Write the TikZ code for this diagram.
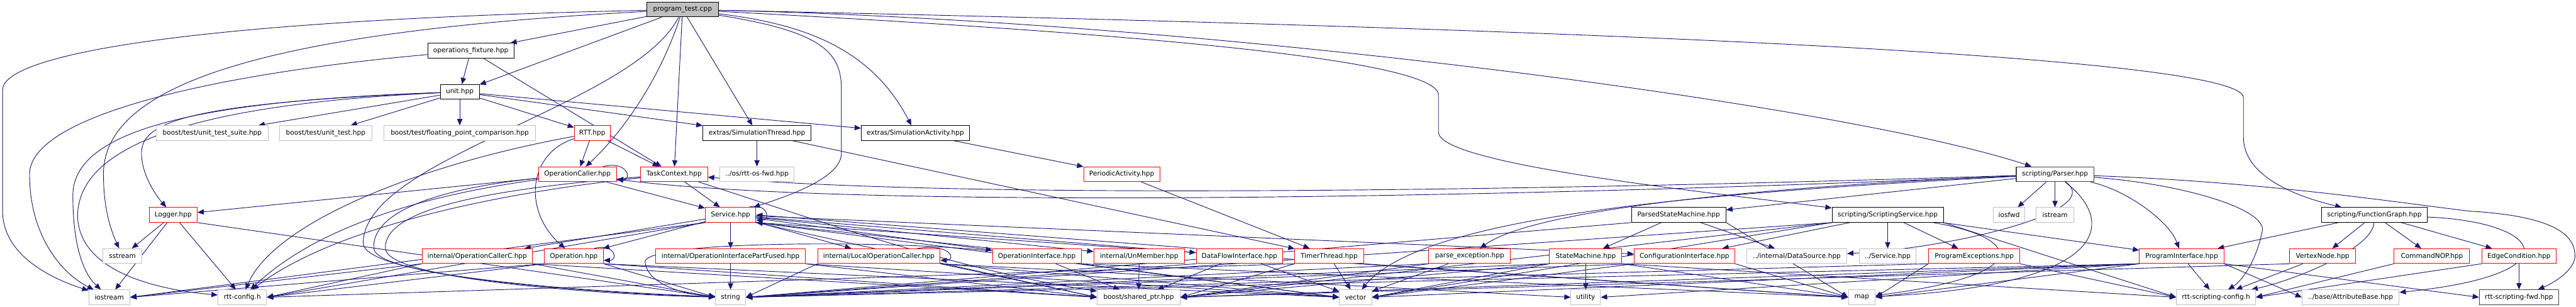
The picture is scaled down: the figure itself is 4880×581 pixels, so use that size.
\documentclass[tikz,border=0pt]{standalone}
\usepackage{fontspec}
\newfontfamily\nodefam{DejaVu Sans}
\usetikzlibrary{arrows.meta}
\definecolor{edgec}{HTML}{191970}
\definecolor{grayb}{HTML}{BFBFBF}
\definecolor{redb}{HTML}{FF0000}
\definecolor{ptfill}{HTML}{BFBFBF}
\definecolor{darkb}{HTML}{404040}
\newcommand\nfont{\nodefam\fontsize{12.6}{15}\selectfont}
\pgfdeclarelayer{bg}
\pgfsetlayers{bg,main}
\tikzset{
  nb/.style={draw, fill=white, line width=1.1pt, minimum height=28pt, inner sep=0pt, font=\nfont, text=black},
  gbox/.style={nb, draw=grayb, minimum width=#1},
  rbox/.style={nb, draw=redb, minimum width=#1},
  kbox/.style={nb, draw=black, minimum width=#1},
  dbox/.style={nb, draw=darkb, line width=1.6pt, minimum width=#1},
  ed/.style={draw=edgec, line width=1.1pt, -{Triangle[length=12pt,width=10pt]}},
}
\newcommand\edgS[2]{\draw[ed] (#1) -- (#2);}
\newcommand\edgL[2]{\draw[ed] (#1.south west) -- (#2.east);}
\newcommand\edgR[2]{\draw[ed] (#1.south east) -- (#2.west);}
\begin{document}
\begin{tikzpicture}[x=1pt,y=-1pt]
\useasboundingbox (0,0) rectangle (4880,581);
% row 0
\node[kbox=136pt, fill=ptfill] (PT) at (1293,18) {program\_test.cpp};
% row 1
\node[kbox=163pt] (OF) at (892,96) {operations\_fixture.hpp};
% row 2
\node[kbox=74pt] (U) at (871,174) {unit.hpp};
% row 3
\node[gbox=212pt] (UTS) at (402,252) {boost/test/unit\_test\_suite.hpp};
\node[gbox=175pt] (UT) at (617,252) {boost/test/unit\_test.hpp};
\node[gbox=287pt] (FPC) at (871,252) {boost/test/floating\_point\_comparison.hpp};
\node[rbox=68pt] (RTT) at (1122,252) {RTT.hpp};
\node[kbox=205pt] (STH) at (1434,252) {extras/SimulationThread.hpp};
\node[kbox=205pt] (SAC) at (1734,252) {extras/SimulationActivity.hpp};
% row 4
\node[rbox=148pt] (OC) at (1094,330) {OperationCaller.hpp};
\node[rbox=127pt] (TC) at (1277,330) {TaskContext.hpp};
\node[gbox=141pt] (OSF) at (1434,330) {../os/rtt-os-fwd.hpp};
\node[rbox=144pt] (PAC) at (2125,330) {PeriodicActivity.hpp};
\node[dbox=147pt] (PA) at (3893,330) {scripting/Parser.hpp};
% row 5
\node[rbox=91pt] (LG) at (328,407) {Logger.hpp};
\node[rbox=96pt] (SV) at (1384,407) {Service.hpp};
\node[kbox=179pt] (PSM) at (3180,407) {ParsedStateMachine.hpp};
\node[kbox=211pt] (SS) at (3576,407) {scripting/ScriptingService.hpp};
\node[gbox=60pt] (IOF) at (3806,407) {iosfwd};
\node[gbox=71pt] (IST) at (3893,407) {istream};
\node[kbox=200pt] (FG) at (4498,407) {scripting/FunctionGraph.hpp};
% row 6
\node[gbox=74pt] (SSTR) at (232,485) {sstream};
\node[rbox=209pt] (OCC) at (904,485) {internal/OperationCallerC.hpp};
\node[rbox=112pt] (OP) at (1087,485) {Operation.hpp};
\node[rbox=283pt] (PF) at (1384,485) {internal/OperationInterfacePartFused.hpp};
\node[rbox=232pt] (LOC) at (1665,485) {internal/LocalOperationCaller.hpp};
\node[rbox=168pt] (OI) at (1964,485) {OperationInterface.hpp};
\node[rbox=172pt] (UM) at (2158,485) {internal/UnMember.hpp};
\node[rbox=164pt] (DFI) at (2348,485) {DataFlowInterface.hpp};
\node[rbox=130pt] (TT) at (2518,485) {TimerThread.hpp};
\node[rbox=155pt] (PE) at (2784,485) {parse\_exception.hpp};
\node[rbox=137pt] (SM) at (3004,485) {StateMachine.hpp};
\node[rbox=191pt] (CI) at (3191,485) {ConfigurationInterface.hpp};
\node[gbox=189pt] (DS) at (3404,485) {../internal/DataSource.hpp};
\node[gbox=108pt] (SVC2) at (3576,485) {../Service.hpp};
\node[rbox=173pt] (PEX) at (3740,485) {ProgramExceptions.hpp};
\node[rbox=160pt] (PI) at (4133,485) {ProgramInterface.hpp};
\node[rbox=125pt] (VN) at (4400,485) {VertexNode.hpp};
\node[rbox=143pt] (CN) at (4607,485) {CommandNOP.hpp};
\node[rbox=141pt] (EC) at (4772,485) {EdgeCondition.hpp};
% row 7
\node[gbox=78pt] (IOS) at (207,563) {iostream};
\node[gbox=92pt] (RC) at (459,563) {rtt-config.h};
\node[gbox=57pt] (STR) at (1384,563) {string};
\node[gbox=157pt] (SP) at (2157,563) {boost/shared\_ptr.hpp};
\node[gbox=61pt] (VEC) at (2568,563) {vector};
\node[gbox=56pt] (UTIL) at (3004,563) {utility};
\node[gbox=51pt] (MAP) at (3527,563) {map};
\node[gbox=150pt] (RSC) at (4198,563) {rtt-scripting-config.h};
\node[gbox=184pt] (AB) at (4453,563) {../base/AttributeBase.hpp};
\node[dbox=150pt] (RSF) at (4772,563) {rtt-scripting-fwd.hpp};

\begin{pgfonlayer}{bg}
% program_test.cpp
\edgS{PT}{OF} \edgS{PT}{U} \edgS{PT}{TC} \edgS{PT}{STH}
\draw[ed] (PT) .. controls (300,40) and (5,110) .. (5,170) -- (5,400) .. controls (5,480) and (90,525) .. (IOS);
\draw[ed] (PT) .. controls (500,60) and (196,160) .. (196,330) .. controls (196,400) and (212,440) .. (SSTR);
\draw[ed] (PT) .. controls (1250,150) and (1180,250) .. (OC);
\draw[ed] (PT) .. controls (1560,60) and (1594,100) .. (1594,170) -- (1594,290) .. controls (1594,340) and (1480,375) .. (SV);
\draw[ed] (PT) .. controls (1520,45) and (1650,90) .. (SAC);
\draw[ed] (PT) .. controls (2100,60) and (2725,110) .. (2725,180) -- (2725,250) .. controls (2725,310) and (3200,360) .. (SS);
\draw[ed] (PT) .. controls (2300,40) and (3500,200) .. (PA);
\draw[ed] (PT) .. controls (2800,50) and (4250,100) .. (4250,185) -- (4250,260) .. controls (4250,330) and (4340,370) .. (FG);
\draw[ed] (PT) .. controls (1200,200) and (690,300) .. (688,460) .. controls (688,530) and (1200,556) .. (STR);
% operations_fixture
\edgS{OF}{U} \edgS{OF}{TC}
\draw[ed] (OF) .. controls (400,140) and (56,220) .. (56,330) .. controls (56,450) and (120,520) .. (IOS);
% unit.hpp
\edgS{U}{UTS} \edgS{U}{UT} \edgS{U}{FPC} \edgS{U}{RTT} \edgS{U}{STH} \edgS{U}{SAC}
\draw[ed] (U) .. controls (400,190) and (138,240) .. (138,370) .. controls (138,470) and (160,520) .. (IOS);
\draw[ed] (U) .. controls (420,195) and (147,260) .. (147,410) .. controls (150,500) and (260,545) .. (RC);
\draw[ed] (U) .. controls (360,195) and (268,230) .. (268,290) .. controls (268,330) and (295,370) .. (LG);
% RTT
\edgS{RTT}{OC} \edgS{RTT}{TC}
\draw[ed] (RTT) .. controls (1000,290) and (990,400) .. (OP);
\draw[ed] (RTT) .. controls (800,310) and (520,420) .. (RC);
% extras
\edgS{STH}{OSF} \edgS{STH}{TT} \edgS{SAC}{PAC} \edgS{PAC}{TT}
% OperationCaller
\edgS{OC}{LG} \edgS{OC}{SV}
\draw[ed] ([xshift=-26pt]OC.north east) .. controls +(45pt,12pt) and +(30pt,0pt) .. ([yshift=-10pt]OC.east);
\draw[ed] (OC) .. controls (800,360) and (705,410) .. (708,470) .. controls (712,530) and (1200,558) .. (STR);
\draw[ed] (OC) .. controls (800,370) and (600,430) .. (RC);
% TaskContext
\edgS{TC}{SV}
\draw[ed] (TC) .. controls (900,360) and (728,400) .. (730,470) .. controls (732,535) and (1200,560) .. (STR);
\draw[ed] (TC) .. controls (1500,400) and (1800,510) .. (SP);
\draw[ed] (TC) .. controls (900,370) and (620,440) .. (RC);
% Parser
\edgS{PA}{IOF} \edgS{PA}{IST} \edgS{PA}{PSM}
\draw[ed] (PA) .. controls (2800,365) and (1800,375) .. (TC);
\draw[ed] (PA) .. controls (2800,378) and (1600,395) .. (OC);
\draw[ed] (PA) .. controls (3990,400) and (3700,470) .. (DS);
\draw[ed] (PA) .. controls (4010,420) and (4000,540) .. (MAP);
\draw[ed] (PA) .. controls (4030,360) and (4110,420) .. (PI);
\draw[ed] (PA) .. controls (3300,355) and (2900,400) .. (PE);
\draw[ed] (PA) .. controls (3300,362) and (2700,400) .. (VEC);
\draw[ed] (PA) .. controls (4150,350) and (4300,400) .. (4285,440) .. controls (4275,490) and (4250,530) .. (RSC);
\draw[ed] (PA) .. controls (4300,345) and (4550,385) .. (4680,400) .. controls (4850,410) and (4878,450) .. (4878,485) .. controls (4878,510) and (4840,535) .. (RSF);
% Logger
\edgS{LG}{SSTR} \edgS{LG}{IOS} \edgS{LG}{RC} \edgR{LG}{STR}
% Service
\draw[ed] ([xshift=-14pt]SV.north east) .. controls +(35pt,10pt) and +(28pt,0pt) .. ([yshift=-10pt]SV.east);
\edgS{SV}{OCC} \edgS{SV}{OP} \edgS{SV}{PF} \edgS{SV}{LOC} \edgS{SV}{OI} \edgS{SV}{UM} \edgS{SV}{DFI} \edgS{SV}{CI}
\edgL{SV}{RC} \edgL{SV}{IOS} \edgR{SV}{SP} \edgR{SV}{VEC} \edgR{SV}{MAP}
% ParsedStateMachine
\edgS{PSM}{SM} \edgS{PSM}{DS} \edgL{PSM}{STR} \edgR{PSM}{MAP}
% ScriptingService
\edgS{SS}{SVC2} \edgS{SS}{PEX} \edgS{SS}{PI} \edgS{SS}{CI}
\draw[ed] (SS) .. controls (3830,450) and (3860,520) .. (MAP);
\edgR{SS}{RSC} \edgL{SS}{STR} \edgL{SS}{SP} \edgL{SS}{VEC}
% FunctionGraph
\edgS{FG}{PI} \edgS{FG}{VN} \edgS{FG}{CN} \edgS{FG}{EC}
\draw[ed] (FG) .. controls (4495,470) and (4350,530) .. (RSC);
\draw[ed] (FG) .. controls (4820,420) and (4880,520) .. (AB);
% row 6 -> row 7
\edgR{OCC}{STR} \edgL{OCC}{IOS} \edgL{OCC}{RC} \edgR{OCC}{SP}
\draw[ed] ([xshift=-18pt]OP.north east) .. controls +(40pt,10pt) and +(28pt,0pt) .. ([yshift=-8pt]OP.east);
\edgR{OP}{STR} \edgR{OP}{SP} \edgR{OP}{VEC} \edgL{OP}{RC} \edgL{OP}{IOS}
\edgS{PF}{STR} \edgR{PF}{SP} \edgR{PF}{VEC}
\draw[ed] ([xshift=-44pt]LOC.north east) .. controls +(65pt,10pt) and +(30pt,0pt) .. ([yshift=-8pt]LOC.east);
\edgL{LOC}{STR} \edgR{LOC}{SP} \edgR{LOC}{VEC} \edgR{LOC}{UTIL}
\draw[ed] (OI) .. controls (1700,455) and (1230,455) .. (1222,495) .. controls (1225,540) and (1300,558) .. (STR);
\edgS{OI}{SP} \edgR{OI}{VEC} \edgR{OI}{MAP}
\draw[ed] (OI.north west) -- (SV.south east);
\edgS{UM}{SP}
\draw[ed] (DFI.north west) -- (SV.east);
\edgL{DFI}{STR} \edgS{DFI}{SP} \edgS{DFI}{VEC}
\edgS{TT}{VEC} \edgL{TT}{SP} \edgL{TT}{RC} \edgR{TT}{MAP}
\edgS{PE}{VEC} \edgL{PE}{STR} \edgL{PE}{SP}
\edgS{SM}{UTIL} \edgL{SM}{STR} \edgL{SM}{SP} \edgL{SM}{VEC} \edgR{SM}{MAP} \edgR{SM}{RSC}
\edgR{CI}{MAP} \edgL{CI}{STR} \edgL{CI}{VEC}
\edgL{PEX}{STR} \edgR{PEX}{RSC} \edgL{PEX}{MAP}
\edgS{PI}{RSC} \edgL{PI}{STR} \edgL{PI}{MAP} \edgL{PI}{SP} \edgL{PI}{VEC} \edgL{PI}{UTIL} \edgR{PI}{AB} \edgR{PI}{RSF}
\edgS{VN}{RSC} \edgL{VN}{SP}
\edgL{CN}{RSC}
\edgL{EC}{RSC} \edgS{EC}{RSF}
\end{pgfonlayer}
\end{tikzpicture}
\end{document}
